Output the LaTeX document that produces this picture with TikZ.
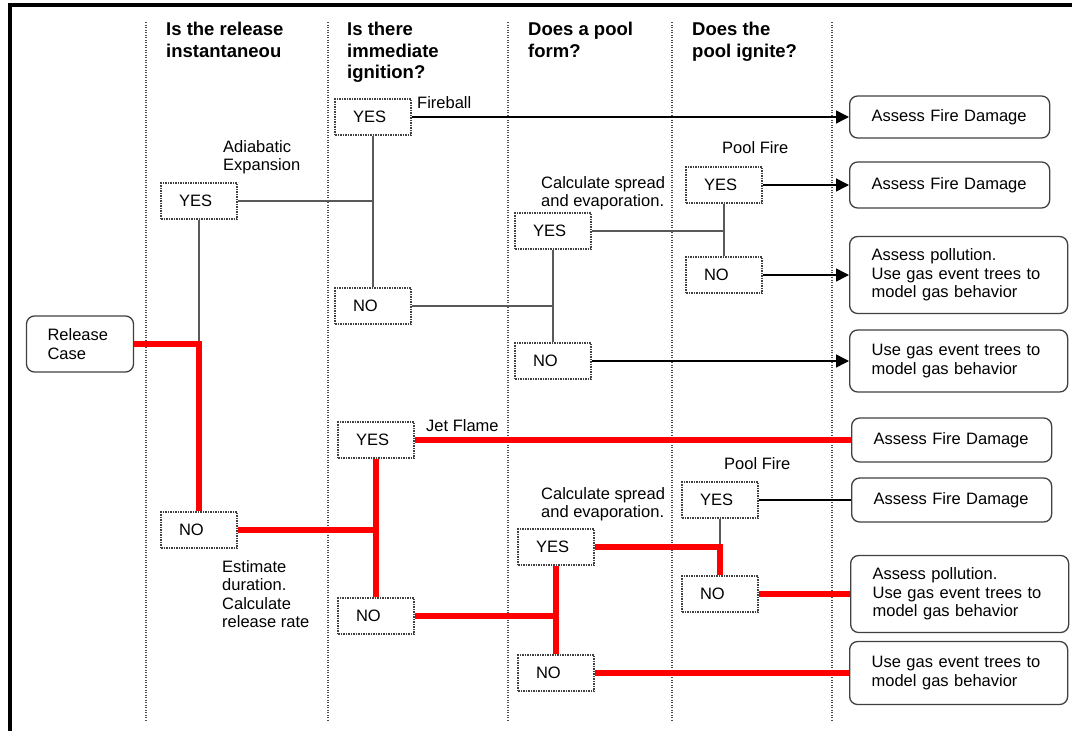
\documentclass[tikz,border=0pt]{standalone}
\usepackage{fontspec}
\setmainfont{Liberation Sans}
\usetikzlibrary{positioning,arrows.meta,calc}

\begin{document}
\begin{tikzpicture}[
    x=1pt, y=-1pt,
    txt/.style={font=\fontsize{16.5}{18.5}\selectfont, inner sep=0pt, align=left},
    head/.style={font=\fontsize{18.5}{21.5}\selectfont\bfseries, inner sep=0pt, align=left, anchor=north west},
    lbl/.style={txt, anchor=north west},
    choice/.style={rectangle, draw=black!75, dash pattern=on 1.5pt off 1pt, line width=1.2pt, txt, text width=40pt, inner xsep=18pt, minimum height=36pt},
    outcome/.style={rectangle, draw=black!75, rounded corners=8pt, line width=1.3pt, txt, anchor=west, inner xsep=22pt, text width=156pt, minimum height=44pt},
    wide/.style={outcome, text width=174pt, minimum height=77pt},
    colline/.style={black!70, line width=1.2pt, dash pattern=on 1.2pt off 1.3pt},
    thinln/.style={black!65, line width=1.5pt},
    arr/.style={-{Triangle[length=13pt,width=13pt]}, black, line width=1.5pt},
    redln/.style={red, line width=6pt}
]
\useasboundingbox (0,0) rectangle (1072,731);

% frame and columns
\draw[line width=4pt] (10,731) -- (10,5) -- (1072,5);
\foreach \x in {146,328,508,672,832}
    \draw[colline] (\x,22) -- (\x,720);

% Column headers
\node[head] (hinst) at (166,22) {Is the release\\instantaneou};
\node[head] (hign) at (347,22) {Is there\\immediate\\ignition?};
\node[head] (hpool) at (528,22) {Does a pool\\form?};
\node[head] (hpig) at (692,22) {Does the\\pool ignite?};

% Start
\node[rectangle, draw=black!75, rounded corners=8pt, line width=1.3pt, txt, inner xsep=21pt, text width=65pt, minimum height=56pt] (relcase) at (80,344) {Release\\Case};

% Upper branch: instantaneous release
\node[choice] (instyes) at (199,201) {YES};
\node[choice] (fireyes) at (373,117) {YES};
\node[choice] (topignno) at (373,306) {NO};
\node[choice] (toppoolyes) at (553,231) {YES};
\node[choice] (toppoolno) at (553,361) {NO};
\node[choice] (toppigyes) at (724,185) {YES};
\node[choice] (toppigno) at (724,275) {NO};

\node[outcome, minimum height=42pt] (firedmga) at (849,117) {Assess Fire Damage};
\node[outcome, minimum height=46pt] (firedmgb) at (849,185) {Assess Fire Damage};
\node[wide] (pollutiona) at (849,275) {Assess pollution.\\Use gas event trees to\\model gas behavior};
\node[wide, minimum height=62pt] (gasonlya) at (849,361) {Use gas event trees to\\model gas behavior};

\node[lbl] at (417,96) {Fireball};
\node[lbl] at (223,140) {Adiabatic\\Expansion};
\node[lbl] at (541,176) {Calculate spread\\and evaporation.};
\node[lbl] at (722,141) {Pool Fire};

\draw[thinln] (instyes.south) -- (instyes |- relcase);
\draw[thinln] (instyes.east) -- (instyes -| fireyes);
\draw[thinln] (fireyes.south) -- (topignno.north);
\draw[thinln] (topignno.east) -- (topignno -| toppoolyes);
\draw[thinln] (toppoolyes.south) -- (toppoolno.north);
\draw[thinln] (toppoolyes.east) -- (toppoolyes -| toppigyes);
\draw[thinln] (toppigyes.south) -- (toppigno.north);
\draw[arr] (fireyes.east) -- (firedmga.west);
\draw[arr] (toppigyes.east) -- (firedmgb.west);
\draw[arr] (toppigno.east) -- (pollutiona.west);
\draw[arr] (toppoolno.east) -- (gasonlya.west);

% Lower branch: continuous release
\node[choice] (instno) at (199,530) {NO};
\node[choice] (jetyes) at (376,440) {YES};
\node[choice] (botignno) at (376,616) {NO};
\node[choice] (botpoolyes) at (556,547) {YES};
\node[choice] (botpoolno) at (556,673) {NO};
\node[choice] (botpigyes) at (720,500) {YES};
\node[choice] (botpigno) at (720,594) {NO};

\node[outcome] (firedmgc) at (851,440) {Assess Fire Damage};
\node[outcome] (firedmgd) at (851,500) {Assess Fire Damage};
\node[wide] (pollutionb) at (850,594) {Assess pollution.\\Use gas event trees to\\model gas behavior};
\node[wide, minimum height=63pt] (gasonlyb) at (849,673) {Use gas event trees to\\model gas behavior};

\node[lbl] at (426,419) {Jet Flame};
\node[lbl] at (222,560) {Estimate\\duration.\\Calculate\\release rate};
\node[lbl] at (541,487) {Calculate spread\\and evaporation.};
\node[lbl] at (724,457) {Pool Fire};

\draw[thinln] (botpigyes.south) -- (botpigyes |- botpoolyes);
\draw[black, line width=1.3pt] (botpigyes.east) -- (firedmgd.west);
\draw[redln] (relcase.east) -| (instno.north);
\draw[redln] (instno.east) -- (instno -| jetyes);
\draw[redln] (jetyes.south) -- (botignno.north);
\draw[redln] (jetyes.east) -- (firedmgc.west);
\draw[redln] (botignno.east) -- (botignno -| botpoolyes);
\draw[redln] (botpoolyes.south) -- (botpoolno.north);
\draw[redln] (botpoolyes.east) -| (botpigno.north);
\draw[redln] (botpigno.east) -- (pollutionb.west);
\draw[redln] (botpoolno.east) -- (gasonlyb.west);

\end{tikzpicture}
\end{document}
